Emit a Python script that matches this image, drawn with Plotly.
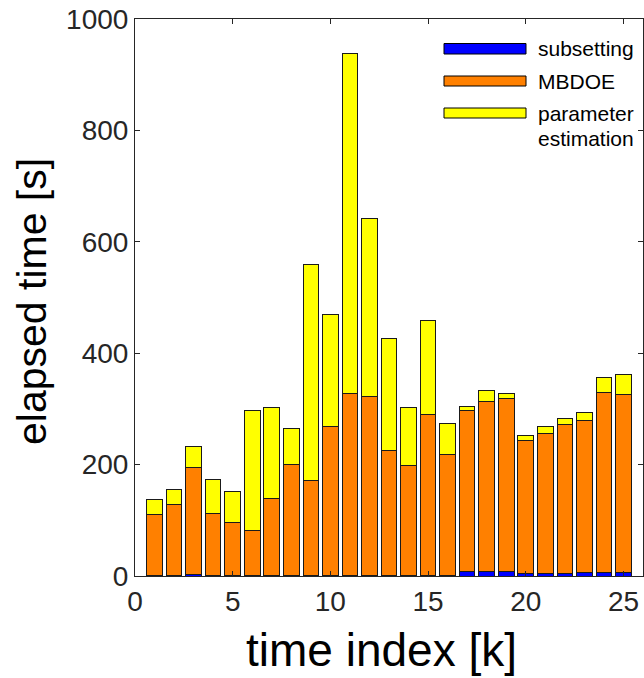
import plotly.graph_objects as go

time_index = list(range(1, 26))
subsetting = [0.5, 0.5, 2, 0.5, 0.5, 0.5, 0.5, 0.5, 0.5, 0.5, 0.5, 0.5, 0.5,
              1.5, 1.5, 1.5, 8, 8, 8, 4, 5, 5, 7, 7, 7]
mbdoe = [109.5, 128.5, 193, 111.5, 95.5, 81.5, 139.5, 200.5, 171.5, 268.5,
         326.5, 322.5, 225.5, 197.5, 288.5, 216.5, 290, 305, 310, 240, 251,
         267, 273, 323, 318]
param_est = [28, 26, 37, 61, 55, 215, 162, 63, 388, 200, 611, 319, 200, 103,
             168, 56, 6, 20, 9, 8, 12, 10, 14, 27, 36]
x_ticks = [0, 5, 10, 15, 20, 25]
y_ticks = [0, 200, 400, 600, 800, 1000]

c_blue = "#0000FF"
c_orange = "#FF8000"
c_yellow = "#FFFF00"

fig = go.Figure()
for vals, col, nm in [(subsetting, c_blue, "subsetting"),
                      (mbdoe, c_orange, "MBDOE"),
                      (param_est, c_yellow, "parameter estimation")]:
    fig.add_trace(go.Bar(x=time_index, y=vals, name=nm, width=0.8,
                         marker=dict(color=col, line=dict(color="#1a1a1a", width=1)),
                         showlegend=False))

W, H = 644, 678
L, R, T, B = 135, 1, 19, 102
pw = W - L - R
ph = H - T - B

def px(xp):
    return (xp - L) / pw

def py(yp):
    return (H - B - yp) / ph

FONT = "Liberation Sans, Arial"
shapes = []
annotations = []
legend_items = [(c_blue, 43.5, 54, "subsetting", 48.5),
                (c_orange, 76, 86, "MBDOE", 81),
                (c_yellow, 108, 118, "parameter", 114)]
for col, y0, y1, txt, yc in legend_items:
    shapes.append(dict(type="rect", xref="paper", yref="paper",
                       x0=px(444), x1=px(526), y0=py(y1), y1=py(y0),
                       fillcolor=col, line=dict(color="#000000", width=1)))
    annotations.append(dict(text=txt, xref="paper", yref="paper", x=px(536), y=py(yc),
                            xanchor="left", yanchor="middle", showarrow=False,
                            font=dict(family=FONT, size=21, color="#000000")))
annotations.append(dict(text="estimation", xref="paper", yref="paper", x=px(536), y=py(138.5),
                        xanchor="left", yanchor="middle", showarrow=False,
                        font=dict(family=FONT, size=21, color="#000000")))

annotations.append(dict(text="elapsed time [s]", xref="paper", yref="paper",
                        x=px(32), y=py(302), textangle=-90, xanchor="center", yanchor="middle",
                        showarrow=False,
                        font=dict(family=FONT, size=41, color="#000000")))
annotations.append(dict(text="time index [k]", xref="paper", yref="paper",
                        x=px(381), y=py(650), xanchor="center", yanchor="middle",
                        showarrow=False,
                        font=dict(family=FONT, size=46, color="#000000")))

axis_common = dict(showgrid=False, zeroline=False, showline=True, linecolor="#262626",
                   linewidth=1, mirror="ticks", ticks="inside", ticklen=5,
                   tickcolor="#262626", tickwidth=1,
                   tickfont=dict(family=FONT, size=28, color="#262626"))

fig.update_layout(
    width=W, height=H,
    margin=dict(l=L, r=R, t=T, b=B, pad=0),
    plot_bgcolor="#FFFFFF", paper_bgcolor="#FFFFFF",
    barmode="stack",
    xaxis=dict(range=[0, 26], tickvals=x_ticks, **axis_common),
    yaxis=dict(range=[0, 1000], tickvals=y_ticks, **axis_common),
    shapes=shapes, annotations=annotations,
)

fig.write_html("out.html")
